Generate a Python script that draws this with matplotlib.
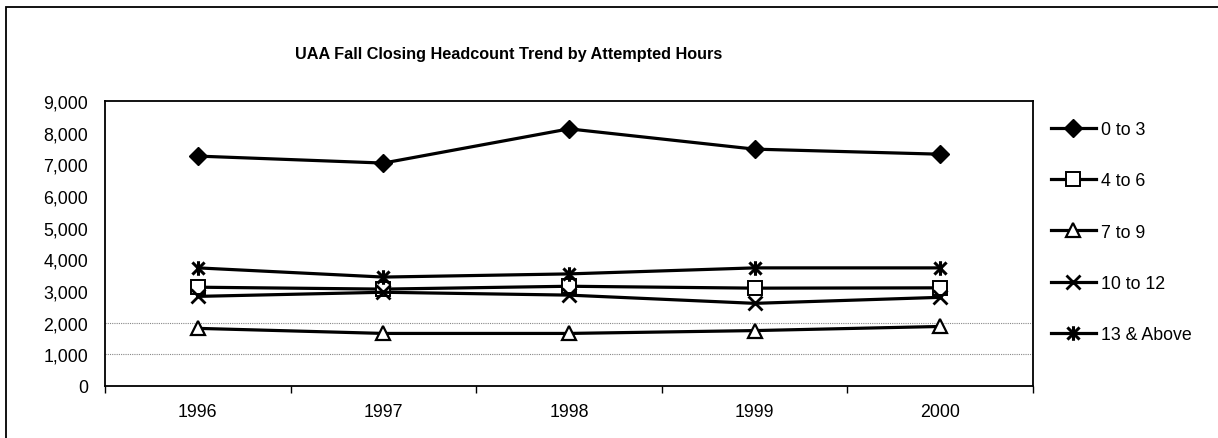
import matplotlib
matplotlib.use("Agg")
import matplotlib.pyplot as plt
from matplotlib.path import Path
from matplotlib.patches import Rectangle
from matplotlib.ticker import FuncFormatter, FixedLocator

plt.rcParams['font.family'] = ['Liberation Sans', 'DejaVu Sans']

years = ["1996", "1997", "1998", "1999", "2000"]
s_0_3 = [7260, 7040, 8120, 7480, 7320]
s_4_6 = [3120, 3060, 3150, 3090, 3100]
s_7_9 = [1820, 1660, 1660, 1750, 1880]
s_10_12 = [2830, 2960, 2870, 2610, 2800]
s_13_up = [3730, 3440, 3540, 3730, 3730]
labels = ["0 to 3", "4 to 6", "7 to 9", "10 to 12", "13 & Above"]

asterisk = Path(
    [(-1, -1), (1, 1), (-1, 1), (1, -1), (0, -1.2), (0, 1.2)],
    [Path.MOVETO, Path.LINETO, Path.MOVETO, Path.LINETO, Path.MOVETO, Path.LINETO])

fig = plt.figure(figsize=(12.18, 4.39), dpi=100)
# outer chart frame (left and top visible)
fig.add_artist(Rectangle((6 / 1218, -0.05), 1.1, (439 - 8) / 439 + 0.05,
                         transform=fig.transFigure, fill=False,
                         edgecolor='black', linewidth=1.3))

ax = fig.add_axes([105 / 1218, (439 - 387) / 439, (1033 - 105) / 1218, (387 - 102) / 439])
x = list(range(len(years)))

lw = 2.3
ax.plot(x, s_0_3, color='black', lw=lw, marker='D', ms=9, mfc='black', mec='black', label=labels[0], zorder=5)
ax.plot(x, s_4_6, color='black', lw=lw, marker='s', ms=9.5, mfc='white', mec='black', mew=1.4, label=labels[1], zorder=4)
ax.plot(x, s_7_9, color='black', lw=lw, marker='^', ms=9.5, mfc='white', mec='black', mew=1.6, label=labels[2], zorder=4)
ax.plot(x, s_10_12, color='black', lw=lw, marker='x', ms=9.5, mec='black', mew=2.0, label=labels[3], zorder=4)
ax.plot(x, s_13_up, color='black', lw=lw, marker=asterisk, ms=10.5, mec='black', mew=2.2, label=labels[4], zorder=4)

ax.set_xlim(-0.5, 4.5)
ax.set_ylim(0, 9000)
ax.yaxis.set_major_locator(FixedLocator(range(0, 9001, 1000)))
ax.yaxis.set_major_formatter(FuncFormatter(lambda v, p: f"{int(v):,}"))
ax.tick_params(axis='y', length=0, labelsize=12.8, pad=12)
ax.set_xticks(x)
ax.set_xticklabels(years)
ax.set_xticks([i - 0.5 for i in range(len(years) + 1)], minor=True)
ax.tick_params(axis='x', which='major', length=0, labelsize=12.8, pad=12)
ax.tick_params(axis='x', which='minor', length=5, direction='out', width=1)

for v in (1000, 2000):
    ax.axhline(v, color='#888888', lw=0.8, ls=(0, (1, 1)), zorder=1)

for s in ax.spines.values():
    s.set_linewidth(1.3)
    s.set_color('black')

fig.text(509 / 1218, 1 - 55 / 439, "UAA Fall Closing Headcount Trend by Attempted Hours",
         ha='center', va='center', fontsize=11.7, fontweight='bold')

leg = ax.legend(loc='upper left', bbox_to_anchor=(1.012, 0.955), frameon=False,
                fontsize=12.8, handlelength=2.5, handletextpad=0.3,
                labelspacing=1.93, borderaxespad=0)

fig.savefig("out.png", dpi=100)
